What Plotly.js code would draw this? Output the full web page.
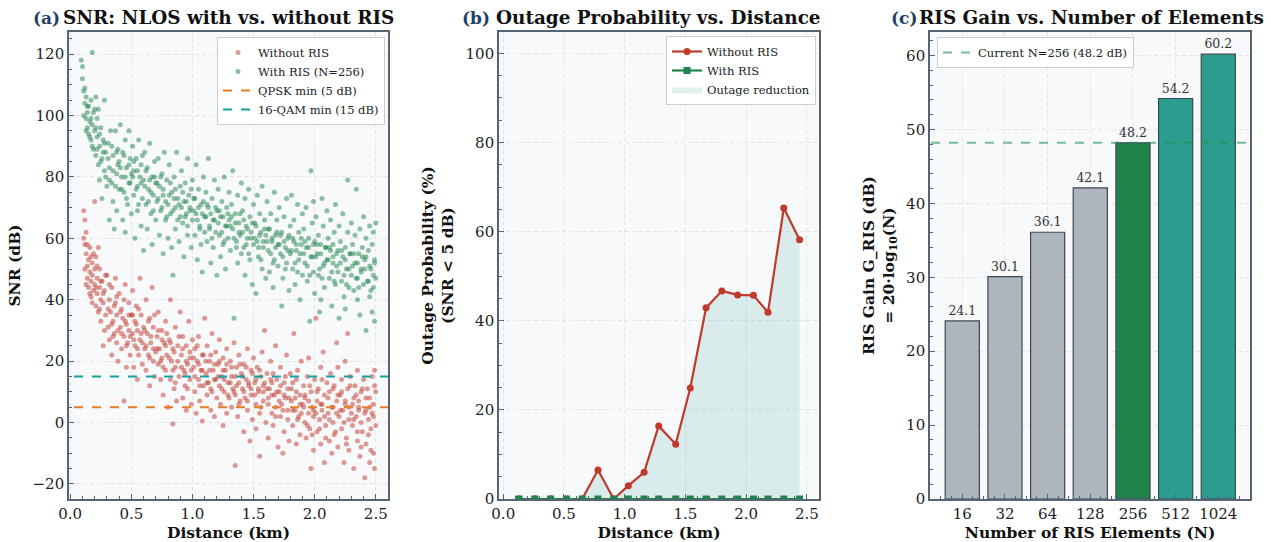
<!DOCTYPE html>
<html>
<head>
<meta charset="utf-8">
<script src="https://cdn.plot.ly/plotly-3.0.1.min.js"></script>
<style>html,body{margin:0;padding:0;background:#fff;}#chart{width:1271px;height:542px;}</style>
</head>
<body>
<div id="chart"></div>
<script>
// ---------------- DATA ----------------
// Panel (a): SNR samples [distance km, SNR dB]
const withoutRis = [
[0.11,69],[0.12,66],[0.12,58],[0.13,62],[0.13,55],[0.14,51],[0.14,47],[0.15,53],[0.15,44],[0.16,49],[0.16,57],[0.17,46],[0.17,41],[0.18,52],[0.18,48],[0.19,43],[0.19,55],[0.20,72],[0.20,45],[0.12,50],
[0.21,54],[0.21,38],[0.22,47],[0.22,42],[0.23,57],[0.23,36],[0.24,44],[0.24,50],[0.25,40],[0.25,33],[0.26,46],[0.27,39],[0.27,25],[0.28,43],[0.29,35],[0.30,48],
[0.31,31],[0.32,40],[0.32,27],[0.33,36],[0.34,44],[0.34,22],[0.35,33],[0.36,38],[0.36,29],[0.37,47],[0.38,26],[0.38,35],[0.39,20],[0.40,42],
[0.41,31],[0.42,24],[0.42,37],[0.43,34],[0.44,7],[0.44,28],[0.45,45],[0.46,18],[0.46,32],[0.47,26],[0.48,39],[0.48,30],[0.49,22],[0.50,35],
[0.51,29],[0.51,43],[0.52,18],[0.53,33],[0.53,25],[0.54,38],[0.55,14],[0.55,30],[0.56,22],[0.57,47],[0.57,27],[0.58,35],[0.59,19],[0.60,31],
[0.61,24],[0.62,40],[0.62,17],[0.63,29],[0.64,22],[0.65,34],[0.65,12],[0.66,26],[0.67,44],[0.68,20],[0.68,31],[0.69,15],[0.70,23],
[0.71,28],[0.72,19],[0.72,36],[0.73,24],[0.74,14],[0.75,30],[0.75,21],[0.76,9],[0.77,26],[0.78,17],[0.78,33],[0.79,22],[0.80,5],
[0.81,27],[0.82,14],[0.82,40],[0.83,20],[0.84,-0.5],[0.84,24],[0.85,11],[0.86,31],[0.86,18],[0.87,7],[0.88,25],[0.89,15],[0.90,36],
[0.91,22],[0.92,8],[0.92,28],[0.93,17],[0.94,12],[0.95,25],[0.95,4],[0.96,19],[0.97,33],[0.98,14],[0.98,21],[0.99,6],[1.00,27],
[1.01,18],[1.02,10],[1.02,24],[1.03,3],[1.04,20],[1.05,14],[1.05,28],[1.06,7],[1.07,17],[1.08,0.5],[1.08,22],[1.09,12],[1.10,34],
[1.11,16],[1.12,9],[1.12,25],[1.13,13],[1.14,20],[1.15,4],[1.15,11],[1.16,29],[1.17,17],[1.18,2],[1.18,14],[1.19,23],[1.20,8],
[1.21,19],[1.22,12],[1.22,27],[1.23,6],[1.24,15],[1.25,-1],[1.25,21],[1.26,10],[1.27,17],[1.28,3],[1.28,24],[1.29,13],[1.30,8],
[1.31,20],[1.32,5],[1.32,15],[1.33,11],[1.34,26],[1.35,-14],[1.35,9],[1.36,18],[1.37,2],[1.38,13],[1.38,22],[1.39,7],[1.40,16],
[1.41,11],[1.42,-3],[1.42,19],[1.43,8],[1.44,14],[1.45,24],[1.45,4],[1.46,12],[1.47,-6],[1.48,17],[1.48,9],[1.49,1],[1.50,21],
[1.51,13],[1.52,6],[1.52,-2],[1.53,18],[1.54,10],[1.55,-11],[1.55,3],[1.56,15],[1.57,23],[1.58,7],[1.58,12],[1.59,30],[1.60,0],
[1.61,16],[1.62,8],[1.62,-5],[1.63,11],[1.64,20],[1.65,3],[1.65,13],[1.66,-1],[1.67,9],[1.68,25],[1.68,5],[1.69,14],[1.70,-8],
[1.71,10],[1.72,2],[1.72,18],[1.73,6],[1.74,-10],[1.75,13],[1.75,-3],[1.76,8],[1.77,22],[1.78,4],[1.78,11],[1.79,-6],[1.80,16],
[1.81,7],[1.82,-1],[1.82,13],[1.83,29],[1.84,4],[1.85,10],[1.85,-7],[1.86,17],[1.87,2],[1.88,9],[1.88,-4],[1.89,20],[1.90,6],
[1.91,12],[1.92,0],[1.92,8],[1.93,-5],[1.94,15],[1.95,3],[1.95,21],[1.96,-2],[1.97,-15],[1.97,10],[1.98,5],[1.99,-9],[2.00,14],[1.99,2],
[2.01,34],[2.02,7],[2.02,-3],[2.03,11],[2.04,1],[2.05,18],[2.05,-7],[2.06,4],[2.07,23],[2.08,-13],[2.08,9],[2.09,-1],[2.10,13],[2.06,6],
[2.11,3],[2.12,-6],[2.12,10],[2.13,16],[2.14,-10],[2.15,5],[2.15,0],[2.16,12],[2.17,-3],[2.18,26],[2.18,7],[2.19,-8],[2.20,2],[2.19,18],
[2.21,9],[2.22,-2],[2.22,14],[2.23,4],[2.24,-13],[2.25,20],[2.25,6],[2.26,-5],[2.27,11],[2.28,1],[2.28,-9],[2.29,15],[2.30,3],[2.27,29],
[2.31,-1],[2.32,8],[2.32,-15],[2.33,12],[2.34,2],[2.35,-6],[2.35,17],[2.36,5],[2.37,-11],[2.38,10],[2.38,0],[2.39,-3],[2.40,14],[2.36,7],
[2.41,-18],[2.42,4],[2.42,-7],[2.43,11],[2.44,1],[2.45,-13],[2.45,8],[2.46,-2],[2.47,15],[2.47,3],[2.48,-10],[2.48,6],[2.49,17],[2.49,-15],[2.50,10],[2.50,-1],
[0.11,60],[0.13,45],[0.14,58],[0.16,42],[0.17,54],[0.18,39],[0.20,50],
[0.21,44],[0.22,51],[0.24,37],[0.25,46],[0.27,42],[0.28,30],[0.29,48],
[0.31,37],[0.32,45],[0.34,32],[0.35,28],[0.37,39],[0.38,41],[0.39,30],
[0.41,36],[0.42,29],[0.44,40],[0.45,33],[0.46,25],[0.48,35],[0.49,28],
[0.51,35],[0.52,27],[0.54,32],[0.55,24],[0.56,37],[0.58,29],[0.59,26],
[0.61,30],[0.62,25],[0.64,33],[0.65,21],[0.66,28],[0.68,24],[0.69,35],
[0.71,24],[0.72,30],[0.74,20],[0.75,27],[0.76,18],[0.78,25],[0.79,29],
[0.81,21],[0.82,26],[0.84,17],[0.85,23],[0.86,13],[0.88,20],[0.89,28],
[0.91,18],[0.92,24],[0.94,16],[0.95,20],[0.96,11],[0.98,23],[0.99,17],
[1.01,21],[1.02,15],[1.04,25],[1.05,19],[1.06,12],[1.08,17],[1.09,22],
[1.11,20],[1.12,13],[1.14,17],[1.15,22],[1.16,10],[1.18,19],[1.19,14],
[1.21,15],[1.22,20],[1.24,11],[1.25,17],[1.26,14],[1.28,19],[1.29,9],
[1.31,13],[1.32,18],[1.34,10],[1.35,15],[1.36,12],[1.38,6],[1.39,19],
[1.41,15],[1.42,10],[1.44,18],[1.45,7],[1.46,13],[1.48,11],[1.49,16],
[1.51,9],[1.52,14],[1.54,11],[1.55,17],[1.56,5],[1.58,10],[1.59,13],
[1.61,11],[1.62,6],[1.64,14],[1.65,9],[1.66,16],[1.68,2],[1.69,10],
[1.71,7],[1.72,12],[1.74,4],[1.75,9],[1.76,15],[1.78,1],[1.79,8],
[1.81,11],[1.82,4],[1.84,8],[1.85,14],[1.86,1],[1.88,6],[1.89,3],
[1.91,5],[1.92,9],[1.94,-1],[1.95,7],[1.96,12],[1.98,-4],[1.99,4],
[2.01,3],[2.02,10],[2.04,-2],[2.05,6],[2.06,14],[2.08,2],[2.09,-5],
[2.11,8],[2.12,1],[2.14,5],[2.15,11],[2.16,-4],[2.18,3],[2.19,9],
[2.21,4],[2.22,10],[2.24,0],[2.25,7],[2.26,-7],[2.28,5],[2.29,12],
[2.31,6],[2.32,1],[2.34,9],[2.35,-3],[2.36,4],[2.38,-8],[2.39,11],
[2.41,3],[2.42,8],[2.44,-4],[2.45,5],[2.46,-9],[2.48,2],[2.49,12]
];
const withRis = [
[0.09,118],[0.10,116],[0.10,112],[0.11,108],[0.12,109],[0.12,104],[0.13,99],[0.13,106],[0.14,96],[0.14,101],[0.15,94],[0.15,103],[0.16,98],[0.17,92],[0.17,105],[0.18,120.5],[0.18,97],[0.19,89],[0.19,101],[0.20,95],
[0.21,106],[0.21,87],[0.22,93],[0.22,99],[0.23,84],[0.23,102],[0.24,90],[0.24,79],[0.25,96],[0.26,86],[0.26,73],[0.27,92],[0.28,82],[0.28,105],[0.29,88],[0.30,77],
[0.31,91],[0.32,83],[0.32,66],[0.33,95],[0.34,78],[0.35,87],[0.35,72],[0.36,63],[0.37,95],[0.38,81],[0.38,69],[0.39,89],[0.40,76],[0.40,85],
[0.41,97],[0.42,80],[0.43,66],[0.43,88],[0.44,75],[0.45,92],[0.45,62],[0.46,83],[0.47,71],[0.48,95],[0.48,78],[0.49,86],[0.50,68],[0.50,81],
[0.51,90],[0.52,74],[0.52,82],[0.53,60],[0.54,86],[0.55,77],[0.55,69],[0.56,92],[0.57,80],[0.58,64],[0.58,84],[0.59,73],[0.60,79],[0.60,56],
[0.61,88],[0.62,71],[0.63,83],[0.63,63],[0.64,76],[0.65,91],[0.66,68],[0.67,80],[0.67,58],[0.68,74],[0.69,85],[0.70,66],[0.70,78],
[0.71,72],[0.72,86],[0.73,61],[0.73,77],[0.74,69],[0.75,81],[0.76,55],[0.76,74],[0.77,88],[0.78,66],[0.79,79],[0.80,71],[0.80,60],
[0.81,84],[0.82,68],[0.83,75],[0.83,57],[0.84,48],[0.85,80],[0.86,70],[0.86,63],[0.87,88],[0.88,73],[0.89,59],[0.90,77],[0.90,67],
[0.91,82],[0.92,65],[0.93,72],[0.93,54],[0.94,78],[0.95,68],[0.96,86],[0.96,61],[0.97,74],[0.98,70],[0.99,57],[1.00,79],[1.00,66],
[1.01,73],[1.02,61],[1.03,84],[1.03,68],[1.04,53],[1.05,76],[1.06,64],[1.07,71],[1.07,58],[1.08,49],[1.09,80],[1.10,67],[1.10,62],
[1.11,75],[1.12,59],[1.13,70],[1.13,86],[1.14,64],[1.15,52],[1.16,73],[1.17,66],[1.17,57],[1.18,79],[1.19,62],[1.20,69],[1.20,48],
[1.21,76],[1.22,61],[1.23,67],[1.23,54],[1.24,72],[1.25,58],[1.26,80],[1.27,64],[1.27,50],[1.28,70],[1.29,60],[1.30,75],[1.30,66],
[1.31,56],[1.32,71],[1.33,63],[1.33,82],[1.34,34],[1.35,68],[1.36,59],[1.37,74],[1.37,52],[1.38,65],[1.39,61],[1.40,78],[1.40,55],
[1.41,69],[1.42,57],[1.43,73],[1.43,48],[1.44,64],[1.45,60],[1.46,76],[1.47,53],[1.47,67],[1.48,62],[1.49,45],[1.50,71],[1.50,58],
[1.51,65],[1.52,42],[1.53,74],[1.53,59],[1.54,54],[1.55,68],[1.56,62],[1.57,50],[1.57,77],[1.58,57],[1.59,66],[1.60,47],[1.60,61],
[1.61,72],[1.62,56],[1.63,63],[1.63,49],[1.64,68],[1.65,59],[1.66,44],[1.67,75],[1.67,53],[1.68,61],[1.69,66],[1.70,51],[1.70,58],
[1.71,70],[1.72,55],[1.73,38],[1.73,62],[1.74,47],[1.75,67],[1.76,57],[1.77,73],[1.77,52],[1.78,60],[1.79,43],[1.80,64],[1.80,55],
[1.81,74],[1.82,50],[1.83,59],[1.83,66],[1.84,45],[1.85,56],[1.86,71],[1.87,53],[1.87,62],[1.88,40],[1.89,58],[1.90,68],[1.90,48],
[1.91,63],[1.92,52],[1.93,57],[1.93,70],[1.94,46],[1.95,60],[1.96,33],[1.97,82],[1.97,54],[1.98,65],[1.99,49],[2.00,59],[2.00,42],[1.99,72],
[2.01,67],[2.02,55],[2.03,48],[2.03,61],[2.04,36],[2.05,58],[2.06,73],[2.07,51],[2.07,64],[2.08,44],[2.09,57],[2.10,69],[2.10,53],[2.05,40],
[2.11,60],[2.12,47],[2.13,56],[2.13,66],[2.14,38],[2.15,52],[2.16,62],[2.17,45],[2.17,71],[2.18,55],[2.19,49],[2.20,64],[2.20,34],[2.15,58],
[2.21,59],[2.22,46],[2.23,54],[2.23,68],[2.24,41],[2.25,57],[2.26,50],[2.27,79],[2.27,62],[2.28,44],[2.29,55],[2.30,65],[2.30,48],[2.25,37],
[2.31,58],[2.32,43],[2.33,61],[2.33,52],[2.34,76],[2.35,47],[2.36,55],[2.37,35],[2.37,63],[2.38,50],[2.39,57],[2.40,45],[2.40,67],[2.35,40],
[2.41,53],[2.42,30],[2.42,60],[2.43,46],[2.44,56],[2.45,41],[2.45,64],[2.46,50],[2.47,36],[2.47,58],[2.48,44],[2.48,62],[2.49,52],[2.49,33],[2.50,65],[2.50,47],
[0.11,100],[0.13,95],[0.14,103],[0.16,93],[0.17,99],[0.18,90],[0.20,102],
[0.21,96],[0.22,89],[0.24,94],[0.25,85],[0.27,88],[0.28,91],[0.29,80],
[0.31,86],[0.32,79],[0.34,90],[0.35,82],[0.37,77],[0.38,88],[0.39,84],
[0.41,83],[0.42,76],[0.44,87],[0.45,80],[0.46,73],[0.48,84],[0.49,78],
[0.51,80],[0.52,85],[0.54,76],[0.55,82],[0.56,71],[0.58,78],[0.59,87],
[0.61,77],[0.62,82],[0.64,72],[0.65,79],[0.66,75],[0.68,69],[0.69,80],
[0.71,78],[0.72,73],[0.74,80],[0.75,70],[0.76,76],[0.78,72],[0.79,67],
[0.81,74],[0.82,78],[0.84,69],[0.85,73],[0.86,76],[0.88,66],[0.89,71],
[0.91,70],[0.92,75],[0.94,67],[0.95,72],[0.96,64],[0.98,69],[0.99,76],
[1.01,69],[1.02,73],[1.04,66],[1.05,70],[1.06,63],[1.08,68],[1.09,72],
[1.11,67],[1.12,71],[1.14,63],[1.15,68],[1.16,60],[1.18,66],[1.19,70],
[1.21,65],[1.22,69],[1.24,62],[1.25,67],[1.26,59],[1.28,64],[1.29,68],
[1.31,64],[1.32,67],[1.34,60],[1.35,65],[1.36,57],[1.38,62],[1.39,68],
[1.41,62],[1.42,66],[1.44,58],[1.45,63],[1.46,55],[1.48,60],[1.49,65],
[1.51,60],[1.52,64],[1.54,57],[1.55,61],[1.56,53],[1.58,59],[1.59,63],
[1.61,59],[1.62,63],[1.64,55],[1.65,60],[1.66,52],[1.68,57],[1.69,62],
[1.71,58],[1.72,61],[1.74,54],[1.75,59],[1.76,50],[1.78,56],[1.79,61],
[1.81,56],[1.82,60],[1.84,52],[1.85,58],[1.86,49],[1.88,55],[1.89,60],
[1.91,55],[1.92,59],[1.94,51],[1.95,57],[1.96,48],[1.98,54],[1.99,58],
[2.01,54],[2.02,58],[2.04,50],[2.05,55],[2.06,47],[2.08,52],[2.09,57],
[2.11,53],[2.12,57],[2.14,49],[2.15,54],[2.16,46],[2.18,51],[2.19,56],
[2.21,52],[2.22,56],[2.24,48],[2.25,53],[2.26,45],[2.28,50],[2.29,55],
[2.31,51],[2.32,55],[2.34,47],[2.35,52],[2.36,44],[2.38,49],[2.39,54],
[2.41,50],[2.42,54],[2.44,46],[2.45,51],[2.46,43],[2.48,48],[2.49,53]
];
const thresholdNames = ["QPSK min (5 dB)", "16-QAM min (15 dB)"];
const thresholdValues = [5, 15];

// Panel (b): outage probability per distance bin
const outageDist = [0.13,0.26,0.39,0.52,0.65,0.78,0.91,1.03,1.16,1.28,1.42,1.54,1.67,1.80,1.93,2.06,2.18,2.31,2.44];
const outageWithout = [0,0,0,0,0,6.5,0,3.0,6.0,16.4,12.3,24.9,42.9,46.7,45.8,45.7,41.9,65.3,58.2];
const outageWith = [0,0,0,0,0,0,0,0,0,0,0,0,0,0,0,0,0,0,0];

// Panel (c): RIS gain vs number of elements
const risElements = ["16","32","64","128","256","512","1024"];
const risGain = [24.1,30.1,36.1,42.1,48.2,54.2,60.2];
const currentN = "256";
const currentGain = 48.2;

// ---------------- STYLE ----------------
const SERIF = "DejaVu Serif";
const RED = "#c0392b", GREEN = "#1e8449", TEAL = "#2a9d8f", GRAY = "#adb5bd", ORANGE = "#e67e22";
const FRAME = "#566573";
const W = 1271, H = 542;
const px = v => v / W, py = v => 1 - v / H;
const yDom = [py(499), py(32)];
const TITLEFONT = {family: SERIF, size: 15.5, color: "#111", weight: "bold"};

function axisBase(extra) {
  return Object.assign({
    showline: true, mirror: true, linecolor: FRAME, linewidth: 1.6,
    ticks: "inside", ticklen: 5, tickwidth: 1.1, tickcolor: FRAME,
    showgrid: true, gridcolor: "#e0e3e7", griddash: "4px,3px", gridwidth: 0.8,
    zeroline: false, automargin: false,
    tickfont: {family: SERIF, size: 15, color: "#222"}
  }, extra);
}
const minorOf = d => ({dtick: d, ticks: "inside", ticklen: 3, tickcolor: FRAME, showgrid: false});

const traces = [];
// (a)
traces.push({
  type: "scatter", mode: "markers", name: "Without RIS", xaxis: "x", yaxis: "y", legend: "legend",
  x: withoutRis.map(p => p[0]), y: withoutRis.map(p => p[1]),
  marker: {color: RED, size: 5, opacity: 0.5}
});
traces.push({
  type: "scatter", mode: "markers", name: "With RIS (N=256)", xaxis: "x", yaxis: "y", legend: "legend",
  x: withRis.map(p => p[0]), y: withRis.map(p => p[1]),
  marker: {color: GREEN, size: 5, opacity: 0.5}
});
const thrColors = [ORANGE, "#17a0a0"];
thresholdValues.forEach((v, i) => {
  traces.push({
    type: "scatter", mode: "lines", name: thresholdNames[i], xaxis: "x", yaxis: "y", legend: "legend",
    x: [-1, 5], y: [v, v], line: {color: thrColors[i], width: 2, dash: "dash"}
  });
});
// (b)
traces.push({
  type: "scatter", mode: "lines", name: "Outage reduction", xaxis: "x2", yaxis: "y2", legend: "legend2", legendrank: 3,
  x: outageDist, y: outageWithout, fill: "tozeroy", fillcolor: "rgba(42,157,143,0.15)", line: {width: 0, color: "rgba(0,0,0,0)"}
});
traces.push({
  type: "scatter", mode: "lines+markers", name: "Without RIS", xaxis: "x2", yaxis: "y2", legend: "legend2", legendrank: 1,
  x: outageDist, y: outageWithout, line: {color: RED, width: 2.2}, marker: {color: RED, size: 7, symbol: "circle"}
});
traces.push({
  type: "scatter", mode: "lines+markers", name: "With RIS", xaxis: "x2", yaxis: "y2", legend: "legend2", legendrank: 2,
  x: outageDist, y: outageWith, line: {color: GREEN, width: 2.2}, marker: {color: GREEN, size: 7, symbol: "square"}
});
// (c)
const idx = risElements.map((_, i) => i);
const curIdx = risElements.indexOf(currentN);
traces.push({
  type: "bar", xaxis: "x3", yaxis: "y3", showlegend: false,
  x: idx, y: risGain, width: 0.8,
  marker: {color: idx.map(i => i < curIdx ? GRAY : (i === curIdx ? GREEN : TEAL)), line: {color: "#3b4856", width: 1.2}},
  text: risGain.map(v => v.toFixed(1)), textposition: "outside", cliponaxis: false,
  textfont: {family: SERIF, size: 12.5, color: "#333"}
});
traces.push({
  type: "scatter", mode: "lines", name: "Current N=" + currentN + " (" + currentGain.toFixed(1) + " dB)",
  xaxis: "x3", yaxis: "y3", legend: "legend3",
  x: [-2, 10], y: [currentGain, currentGain], line: {color: "rgba(39,140,80,0.6)", width: 2, dash: "dash"}
});

const legendBase = {
  bgcolor: "rgba(255,255,255,0.9)", bordercolor: "#c8cdd2", borderwidth: 1,
  font: {family: SERIF, size: 11.5, color: "#222"}, tracegroupgap: 0, itemwidth: 30
};

const titles = [
  {cx: (69 + 388) / 2, text: "SNR: NLOS with vs. without RIS", letter: "(a)", lx: 62},
  {cx: (499 + 819) / 2, text: "Outage Probability vs. Distance", letter: "(b)", lx: 492},
  {cx: (930 + 1250) / 2 + 1, text: "RIS Gain vs. Number of Elements", letter: "(c)", lx: 919}
];
const annotations = [];
titles.forEach(t => {
  annotations.push({xref: "paper", yref: "paper", x: px(t.cx), y: py(17), xanchor: "center", yanchor: "middle",
    text: "<b>" + t.text + "</b>", showarrow: false, font: {family: SERIF, size: 18.4, color: "#111"}});
  annotations.push({xref: "paper", yref: "paper", x: px(t.lx), y: py(18), xanchor: "right", yanchor: "middle",
    text: "<b>" + t.letter + "</b>", showarrow: false, font: {family: SERIF, size: 17, color: "#1f3f66"}});
});

const layout = {
  width: W, height: H, margin: {l: 0, r: 0, t: 0, b: 0},
  paper_bgcolor: "#ffffff", plot_bgcolor: "#f8f9fb",
  font: {family: SERIF},
  showlegend: true,
  xaxis: axisBase({domain: [px(69), px(388)], anchor: "y", range: [-0.01, 2.6], dtick: 0.5, tick0: 0, tickformat: ".1f",
    minor: minorOf(0.1), title: {text: "Distance (km)", standoff: 5, font: TITLEFONT}}),
  yaxis: axisBase({domain: yDom, anchor: "x", range: [-24.9, 127.2], dtick: 20, tick0: 0,
    minor: minorOf(5), title: {text: "SNR (dB)", standoff: 8, font: TITLEFONT}}),
  xaxis2: axisBase({domain: [px(499), px(819)], anchor: "y2", range: [-0.035, 2.6], dtick: 0.5, tick0: 0, tickformat: ".1f",
    minor: minorOf(0.1), title: {text: "Distance (km)", standoff: 5, font: TITLEFONT}}),
  yaxis2: axisBase({domain: yDom, anchor: "x2", range: [0, 104.8], dtick: 20, tick0: 0,
    minor: minorOf(5), title: {text: "Outage Probability (%)<br>(SNR &lt; 5 dB)", standoff: 8, font: TITLEFONT}}),
  xaxis3: axisBase({domain: [px(930), px(1250)], anchor: "y3", range: [-0.757, 6.743],
    tickmode: "array", tickvals: idx, ticktext: risElements,
    minor: {tickmode: "linear", dtick: 0.25, tick0: 0, ticks: "inside", ticklen: 3, tickcolor: FRAME, showgrid: false},
    title: {text: "Number of RIS Elements (N)", standoff: 5, font: TITLEFONT}}),
  yaxis3: axisBase({domain: yDom, anchor: "x3", range: [0, 63.2], dtick: 10, tick0: 0,
    minor: minorOf(2), title: {text: "RIS Gain G_RIS (dB)<br>= 20·log<sub>10</sub>(N)", standoff: 8, font: TITLEFONT}}),
  legend: Object.assign({}, legendBase, {x: px(385), y: py(37), xanchor: "right", yanchor: "top"}),
  legend2: Object.assign({}, legendBase, {x: px(816), y: py(36), xanchor: "right", yanchor: "top"}),
  legend3: Object.assign({}, legendBase, {x: px(937), y: py(37), xanchor: "left", yanchor: "top"}),
  annotations: annotations
};

Plotly.newPlot("chart", traces, layout, {displayModeBar: false, responsive: false});
</script>
</body>
</html>
